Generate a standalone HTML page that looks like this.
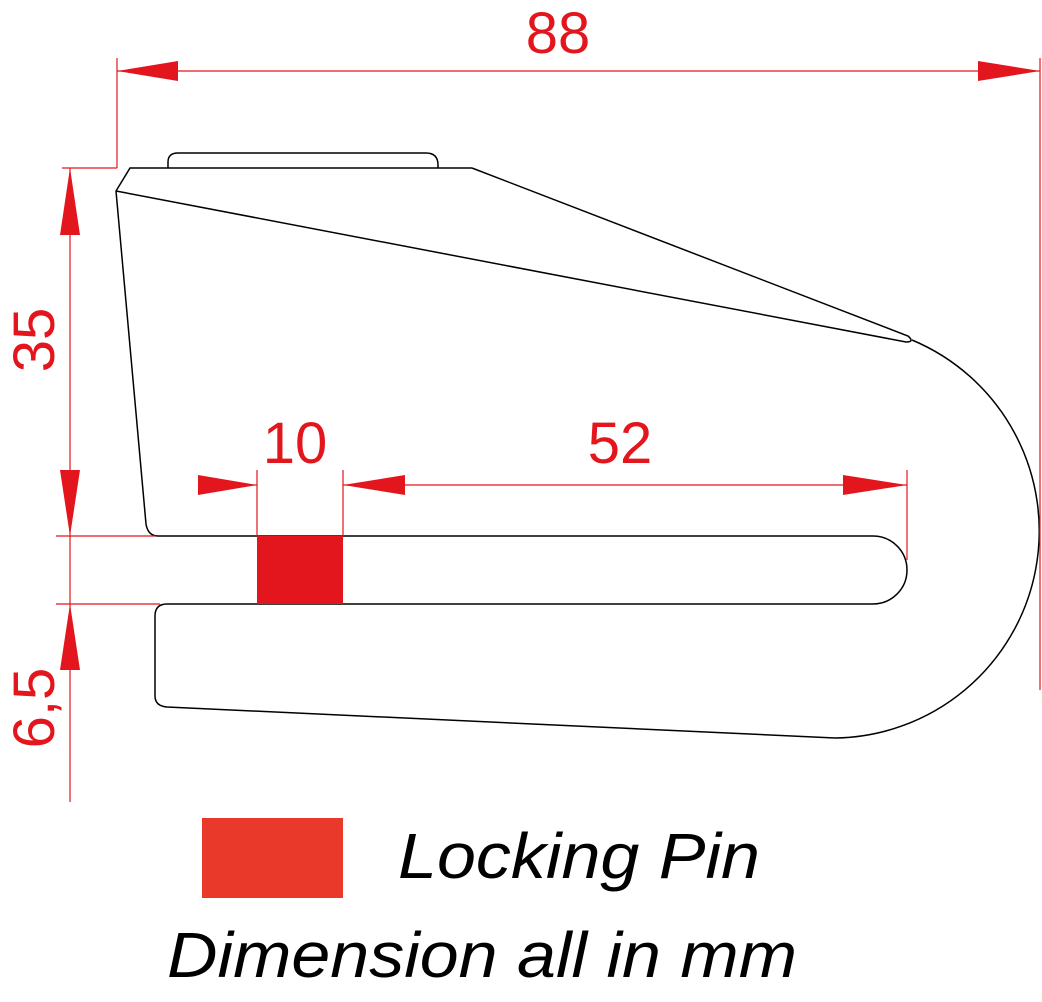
<!DOCTYPE html>
<html><head><style>body{margin:0;background:#fff}svg{display:block}</style></head><body>
<svg width="1042" height="1002" viewBox="0 0 1042 1002" xmlns="http://www.w3.org/2000/svg">
<g fill="none" stroke="#000" stroke-width="1.5">
<path d="M168,168 L168,162 Q168,153 178,153 L426,153 Q438,153 438,165 L438,168"/>
<path d="M472,168 L130,168 L116,191 L146,524 Q148,536 158,536 L873,536 A34,34 0 0 1 873,604 L167,604 Q155,604 155,616 L155,696 Q155,706 167,707 L835,738"/>
<path d="M472,168 L908,336 Q915,342 906,342 L116,191"/>
<path d="M912,340 A207,207 0 0 1 835,738"/>
</g>
<rect x="257" y="536" width="86" height="68" fill="#e3161d"/>
<g stroke="#e3161d" stroke-width="1.2" fill="none">
<line x1="117" y1="58" x2="117" y2="168"/>
<line x1="1040" y1="58" x2="1040" y2="690"/>
<line x1="117" y1="71" x2="1040" y2="71"/>
<line x1="62" y1="168" x2="117" y2="168"/>
<line x1="56" y1="536" x2="155" y2="536"/>
<line x1="56" y1="604" x2="160" y2="604"/>
<line x1="70" y1="168" x2="70" y2="802"/>
<line x1="257" y1="470" x2="257" y2="536"/>
<line x1="343" y1="470" x2="343" y2="536"/>
<line x1="907" y1="470" x2="907" y2="560"/>
<line x1="198" y1="485" x2="257" y2="485"/>
<line x1="343" y1="485" x2="907" y2="485"/>
</g>
<g fill="#e3161d">
<polygon points="117,71 178,61 178,81"/>
<polygon points="1040,71 978,61 978,81"/>
<polygon points="70,168 60,235 80,235"/>
<polygon points="70,536 60,470 80,470"/>
<polygon points="70,604 60,670 80,670"/>
<polygon points="257,485 198,475 198,495"/>
<polygon points="343,485 405,475 405,495"/>
<polygon points="907,485 843,475 843,495"/>
</g>
<g fill="#e3161d" font-family="Liberation Sans, sans-serif" font-size="58" text-anchor="middle">
<text x="558" y="53">88</text>
<text x="295" y="463">10</text>
<text x="620" y="463">52</text>
<text transform="translate(54,340) rotate(-90)">35</text>
<text transform="translate(54,708) rotate(-90)">6,5</text>
</g>
<rect x="202" y="818" width="141" height="80" fill="#e8392a"/>
<g font-family="Liberation Sans, sans-serif" font-style="italic" font-size="64" fill="#000">
<text x="398" y="878" textLength="362" lengthAdjust="spacingAndGlyphs">Locking Pin</text>
<text x="167" y="977" textLength="630" lengthAdjust="spacingAndGlyphs">Dimension all in mm</text>
</g>
</svg>
</body></html>
